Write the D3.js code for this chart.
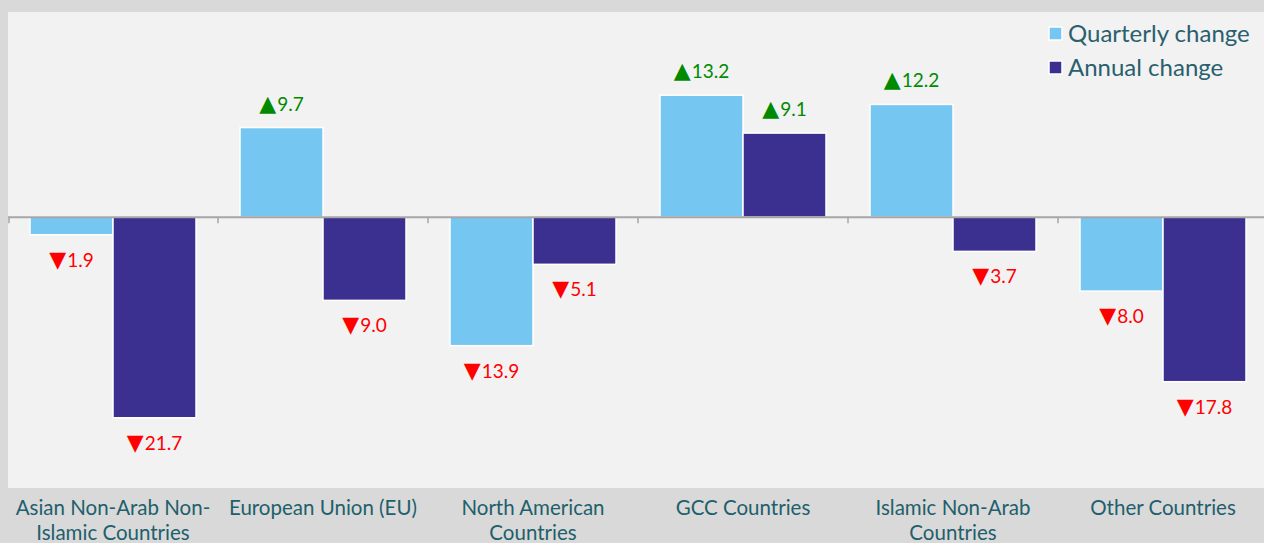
<!DOCTYPE html>
<html>
<head>
<meta charset="utf-8">
<script src="https://cdn.jsdelivr.net/npm/d3@7"></script>
<style>
  html, body { margin: 0; padding: 0; background: #d9d9d9; }
  svg { display: block; }
</style>
</head>
<body>
<svg id="chart" width="1264" height="543"></svg>
<script>
// data
let categories = ['Asian Non-Arab Non-Islamic Countries', 'European Union (EU)', 'North American Countries',
                  'GCC Countries', 'Islamic Non-Arab Countries', 'Other Countries'];
let categoryLines = [['Asian Non-Arab Non-', 'Islamic Countries'], ['European Union (EU)'], ['North American', 'Countries'],
                     ['GCC Countries'], ['Islamic Non-Arab', 'Countries'], ['Other Countries']];
let seriesNames = ['Quarterly change', 'Annual change'];
let quarterly = [-1.9, 9.7, -13.9, 13.2, 12.2, -8.0];
let annual = [-21.7, -9.0, -5.1, 9.1, -3.7, -17.8];
let colors = {'Quarterly change': '#75c6f0', 'Annual change': '#3b2f8f'};

let width = 1264, height = 543;
let panel = {left: 8, top: 12, right: 1268, bottom: 488};
let svg = d3.select('#chart');

svg.append('rect')
	.attr('x', 0).attr('y', 0)
	.attr('width', width).attr('height', height)
	.attr('fill', '#d9d9d9');

svg.append('rect')
	.attr('x', panel.left).attr('y', panel.top)
	.attr('width', panel.right - panel.left).attr('height', panel.bottom - panel.top)
	.attr('fill', '#f2f2f2');

let x = d3.scaleBand()
	.domain(categories)
	.range([panel.left, panel.right]);

let xInner = d3.scaleBand()
	.domain(seriesNames)
	.range([22, x.bandwidth() - 22]);

let y = d3.scaleLinear()
	.domain([-29.3, 22.2])
	.range([panel.bottom, panel.top]);

let rows = [];
categories.forEach(function(c, i) {
	rows.push({cat: c, series: 'Quarterly change', value: quarterly[i]});
	rows.push({cat: c, series: 'Annual change', value: annual[i]});
});

// bars
svg.append('g').selectAll('rect')
	.data(rows)
	.enter().append('rect')
	.attr('x', function (d) { return x(d.cat) + xInner(d.series); })
	.attr('y', function (d) { return y(Math.max(0, d.value)); })
	.attr('width', xInner.bandwidth())
	.attr('height', function (d) { return Math.abs(y(d.value) - y(0)); })
	.attr('fill', function (d) { return colors[d.series]; })
	.attr('stroke', '#ffffff')
	.attr('stroke-width', 1.5);

// zero axis with ticks at category boundaries
let axis = d3.axisBottom(x).tickSize(6).tickFormat('');
let axisG = svg.append('g')
	.attr('transform', 'translate(0,' + y(0) + ')')
	.call(axis);
axisG.select('.domain')
	.attr('d', 'M' + panel.left + ',0H' + panel.right)
	.attr('stroke', '#a6a6a6')
	.attr('stroke-width', 2);
axisG.selectAll('.tick')
	.attr('transform', function (d) { return 'translate(' + x(d) + ',0)'; });
axisG.selectAll('.tick line')
	.attr('stroke', '#a6a6a6')
	.attr('stroke-width', 1.5);
axisG.selectAll('.tick text').remove();
axisG.select('.tick:first-of-type line').attr('transform', 'translate(1,0)');

// value labels, arrow glyph + absolute value
let labels = svg.append('g').selectAll('text')
	.data(rows)
	.enter().append('text')
	.attr('x', function (d) { return x(d.cat) + xInner(d.series) + xInner.bandwidth() / 2; })
	.attr('y', function (d) { return d.value >= 0 ? y(d.value) - 17 : y(d.value) + 32; })
	.attr('text-anchor', 'middle')
	.attr('font-family', 'Lato, sans-serif')
	.attr('font-size', 19)
	.attr('fill', function (d) { return d.value >= 0 ? '#008a00' : '#ff0000'; });
labels.append('tspan')
	.attr('font-family', '"DejaVu Sans", sans-serif')
	.attr('font-size', 22)
	.text(function (d) { return d.value >= 0 ? '\u25B2' : '\u25BC'; });
labels.append('tspan')
	.attr('dx', 1)
	.text(function (d) { return Math.abs(d.value).toFixed(1); });

// category labels
let catG = svg.append('g').selectAll('text')
	.data(categories)
	.enter().append('text')
	.attr('x', function (d) { return x(d) + x.bandwidth() / 2; })
	.attr('y', 515)
	.attr('text-anchor', 'middle')
	.attr('font-family', 'Lato, sans-serif')
	.attr('font-size', 20.5)
	.attr('fill', '#215f6c');
catG.each(function (d, i) {
	let t = d3.select(this);
	categoryLines[i].forEach(function (line, j) {
		t.append('tspan')
			.attr('x', x(d) + x.bandwidth() / 2)
			.attr('dy', j === 0 ? 0 : 25)
			.text(line);
	});
});

// legend
let legend = svg.append('g').attr('transform', 'translate(1049,27)');
seriesNames.forEach(function (s, i) {
	legend.append('rect')
		.attr('x', 0).attr('y', i * 34)
		.attr('width', 13).attr('height', 13)
		.attr('fill', colors[s])
		.attr('stroke', '#ffffff')
		.attr('stroke-width', 1.5);
	legend.append('text')
		.attr('x', 19).attr('y', i * 34 + 15)
		.attr('font-family', 'Lato, sans-serif')
		.attr('font-size', 24)
		.attr('fill', '#2a5f6e')
		.text(s);
});
</script>
</body>
</html>
